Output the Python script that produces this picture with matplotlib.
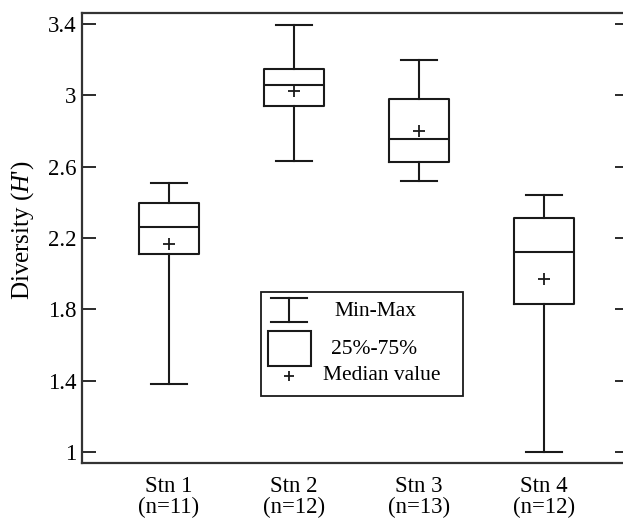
import matplotlib
matplotlib.use("Agg")
import matplotlib.pyplot as plt
from matplotlib.patches import Rectangle
from matplotlib.lines import Line2D

plt.rcParams['font.family'] = ['Liberation Serif', 'DejaVu Serif']
plt.rcParams['mathtext.fontset'] = 'custom'
plt.rcParams['mathtext.it'] = 'Liberation Serif:italic'
plt.rcParams['mathtext.rm'] = 'Liberation Serif'

# summary values
stations = ["Stn 1", "Stn 2", "Stn 3", "Stn 4"]
counts = [11, 12, 13, 12]
mins = [1.381, 2.630, 2.518, 1.002]
q1 = [2.109, 2.941, 2.625, 1.832]
medians = [2.260, 3.060, 2.757, 2.120]
q3 = [2.397, 3.150, 2.978, 2.312]
maxs = [2.510, 3.393, 3.197, 2.441]
means = [2.167, 3.026, 2.802, 1.969]

yticks = [1, 1.4, 1.8, 2.2, 2.6, 3, 3.4]
ytick_labels = ["1", "1.4", "1.8", "2.2", "2.6", "3", "3.4"]

ink = '#1a1a1a'
lw = 1.5

stats = []
for i in range(len(stations)):
    stats.append({
        'label': "%s\n(n=%d)" % (stations[i], counts[i]),
        'whislo': mins[i], 'q1': q1[i], 'med': medians[i],
        'q3': q3[i], 'whishi': maxs[i], 'mean': means[i], 'fliers': [],
    })

fig = plt.figure(figsize=(6.23, 5.18), dpi=100)
ax = fig.add_axes([82 / 623, 1 - 463 / 518, 547 / 623, 450.5 / 518])

ax.bxp(stats, positions=[1, 2, 3, 4], widths=0.48, capwidths=0.288,
       showmeans=True, showfliers=False,
       boxprops=dict(color=ink, linewidth=lw),
       whiskerprops=dict(color=ink, linewidth=lw),
       capprops=dict(color=ink, linewidth=lw),
       medianprops=dict(color=ink, linewidth=lw),
       meanprops=dict(marker='+', markeredgecolor=ink, markersize=9,
                      markeredgewidth=1.3, linestyle='none'))

ax.set_xlim(0.3045, 4.677)
ax.set_ylim(0.938, 3.465)
ax.set_yticks(yticks)
ax.set_yticklabels(ytick_labels)

for sp in ax.spines.values():
    sp.set_linewidth(1.6)
    sp.set_color('#333333')

ax.tick_params(axis='y', direction='in', length=10, width=1.3, color=ink,
               right=True, labelsize=16.5, pad=4)
ax.tick_params(axis='x', length=0, labelsize=16.5, pad=9)
for t in ax.get_xticklabels():
    t.set_linespacing(1.05)

ax.set_ylabel("Diversity ($\\it{H}$')", fontsize=18)
ax.yaxis.set_label_coords(-0.084, 0.517)

# legend drawn by hand, in axes fraction
def fx(px):
    return (px - 82) / 547.0


def fy(py):
    return (463 - py) / 450.5


tr = ax.transAxes
ax.add_patch(Rectangle((fx(260.7), fy(395.7)), fx(462.7) - fx(260.7),
                       fy(291.7) - fy(395.7), transform=tr, fill=False,
                       edgecolor=ink, linewidth=1.3))
ax.add_line(Line2D([fx(271), fx(307)], [fy(297.7), fy(297.7)], transform=tr,
                   color=ink, linewidth=lw))
ax.add_line(Line2D([fx(271), fx(307)], [fy(321.7), fy(321.7)], transform=tr,
                   color=ink, linewidth=lw))
ax.add_line(Line2D([fx(289), fx(289)], [fy(297.7), fy(321.7)], transform=tr,
                   color=ink, linewidth=lw))
ax.add_patch(Rectangle((fx(267.7), fy(365.7)), fx(310.7) - fx(267.7),
                       fy(331) - fy(365.7), transform=tr, fill=False,
                       edgecolor=ink, linewidth=lw))
ax.plot([fx(289)], [fy(375.7)], transform=tr, marker='+', color=ink,
        markersize=7, markeredgewidth=1.3)
ax.text(fx(375), fy(311), "Min-Max", transform=tr, ha='center', va='center',
        fontsize=15.5)
ax.text(fx(374), fy(349), "25%-75%", transform=tr, ha='center', va='center',
        fontsize=15.5)
ax.text(fx(381.5), fy(376), "Median value", transform=tr, ha='center',
        va='center', fontsize=15.5)

fig.savefig("out.png", dpi=100)
